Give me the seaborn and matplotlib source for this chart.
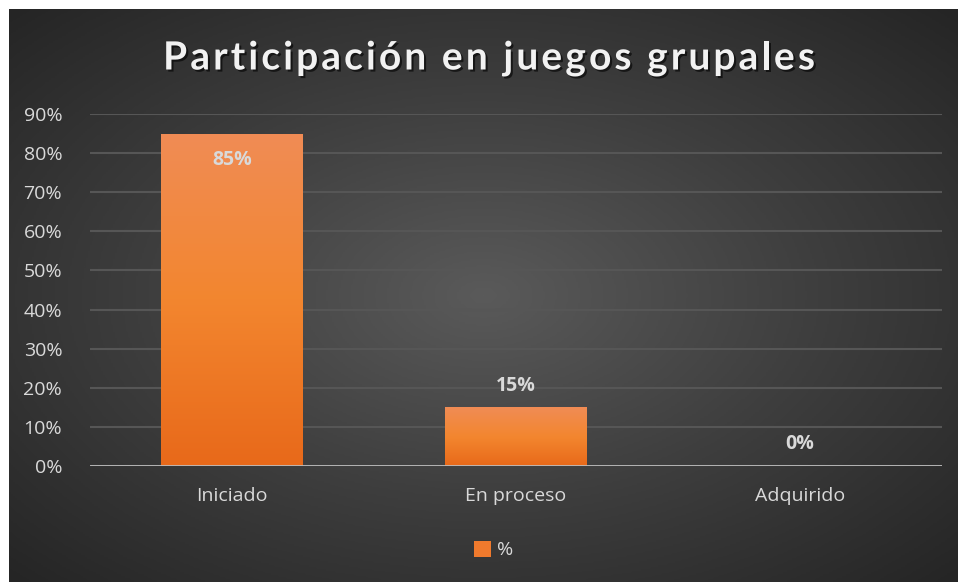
import numpy as np
import pandas as pd
import matplotlib
matplotlib.use("Agg")
import matplotlib.pyplot as plt
import matplotlib.patheffects as pe
from matplotlib.colors import LinearSegmentedColormap
from matplotlib.patches import Patch
import seaborn as sns

# data
categories = ["Iniciado", "En proceso", "Adquirido"]
values = [0.85, 0.15, 0.0]
value_labels = ["85%", "15%", "0%"]
title = "Participación en juegos grupales"
legend_label = "%"
yticks = [0, 0.1, 0.2, 0.3, 0.4, 0.5, 0.6, 0.7, 0.8, 0.9]

df = pd.DataFrame({"cat": categories, "val": values})

sns.set_theme(style="dark")
plt.rcParams["font.family"] = ["Open Sans", "DejaVu Sans"]

txt = "#d9d9d9"
fig = plt.figure(figsize=(9.58, 5.82), dpi=100, facecolor="white")

# radial gradient background
bg = fig.add_axes([9 / 958, 0, 949 / 958, 573 / 582], zorder=-10)
yy, xx = np.mgrid[-1:1:300j, -1:1:500j]
r = np.sqrt(xx ** 2 + yy ** 2) / np.sqrt(2)
bg_cmap = LinearSegmentedColormap.from_list("bg", ["#5a5a5a", "#3e3e3e", "#252525"])
bg.imshow(r, cmap=bg_cmap, aspect="auto", extent=[0, 1, 0, 1], vmin=0, vmax=1)
bg.set_axis_off()

ax = fig.add_axes([90 / 958, 1 - 466 / 582, 852 / 958, 352 / 582])
ax.set_facecolor("none")

sns.barplot(data=df, x="cat", y="val", color="#f07a2d", width=0.5, ax=ax,
            zorder=3, linewidth=0, edgecolor="none")

# gradient fill on bars
bar_cmap = LinearSegmentedColormap.from_list("bar", ["#e8691a", "#f3862f", "#f08c55"])
grad = np.linspace(0, 1, 256).reshape(-1, 1)
for p in ax.patches:
    x0, y0 = p.get_x(), p.get_y()
    w, h = p.get_width(), p.get_height()
    if h <= 0:
        p.set_visible(False)
        continue
    im = ax.imshow(grad, cmap=bar_cmap, aspect="auto", origin="lower",
                   extent=[x0, x0 + w, y0, y0 + h], zorder=3.5)
    im.set_clip_path(p)

ax.set_xlim(-0.5, 2.5)
ax.set_ylim(0, 0.9)
ax.set_yticks(yticks)
ax.set_yticklabels([f"{int(round(t * 100))}%" for t in yticks])
ax.yaxis.grid(True, color="#565656", lw=1.5, zorder=0)
ax.xaxis.grid(False)
ax.axhline(0, color="#bdbdbd", lw=2, zorder=4)
for s in ax.spines.values():
    s.set_visible(False)
ax.tick_params(axis="both", colors=txt, labelsize=14, length=0)
ax.tick_params(axis="x", pad=15)
ax.tick_params(axis="y", pad=20)
ax.set_xlabel("")
ax.set_ylabel("")

# data labels
for i, (v, lab) in enumerate(zip(values, value_labels)):
    if v > 0.5:
        ax.text(i, v - 0.068, lab, ha="center", va="center", color=txt,
                fontsize=14, fontweight="bold", zorder=5)
    else:
        ax.text(i, v + 0.055, lab, ha="center", va="center", color=txt,
                fontsize=14, fontweight="bold", zorder=5)

# title with letter spacing: place each character
renderer = fig.canvas.get_renderer()
tkw = dict(fontsize=28, fontweight="bold", family=["Lato", "DejaVu Sans"])


def text_w(s):
    t = fig.text(0, 0, s + "|", **tkw)
    w = t.get_window_extent(renderer).width
    t.remove()
    return w


bar_w = text_w("")
spacing = 3.1
prefix = [text_w(title[:k]) - bar_w for k in range(len(title) + 1)]
total = prefix[-1] + spacing * (len(title) - 1)
x_left = 489 - total / 2
y_title = 1 - 58 / 582
shadow = [pe.withSimplePatchShadow(offset=(1.5, -1.5), shadow_rgbFace="black", alpha=0.6)]
for k, ch in enumerate(title):
    if ch == " ":
        continue
    xpix = x_left + prefix[k] + spacing * k
    fig.text(xpix / 958, y_title, ch, ha="left", va="center", color="#f2f2f2",
             path_effects=shadow, **tkw)

leg = fig.legend(handles=[Patch(facecolor="#f07a2d", edgecolor="none")], labels=[legend_label],
                 loc="center", bbox_to_anchor=(0.515, 1 - 550 / 582), frameon=False,
                 fontsize=14, handlelength=0.9, handleheight=0.9, handletextpad=0.3)
for t in leg.get_texts():
    t.set_color(txt)

fig.savefig("out.png", dpi=100, facecolor="white")
